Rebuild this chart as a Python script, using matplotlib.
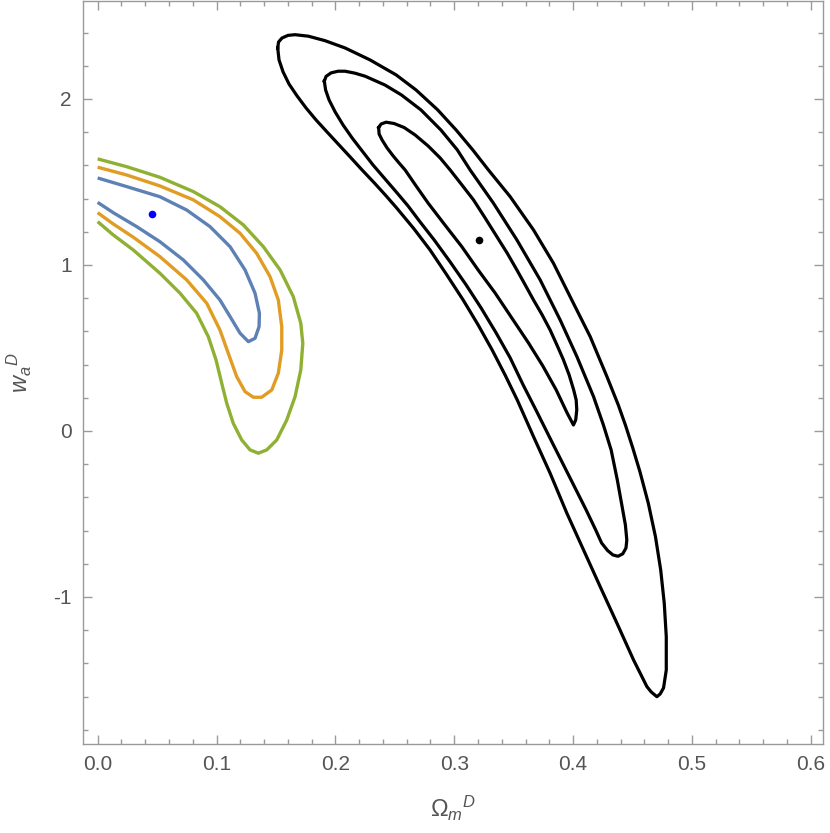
import matplotlib
matplotlib.use("Agg")
import matplotlib.pyplot as plt
from matplotlib.ticker import MultipleLocator

plt.rcParams['font.family'] = ['Liberation Sans', 'DejaVu Sans']
plt.rcParams['mathtext.fontset'] = 'custom'
plt.rcParams['mathtext.rm'] = 'Liberation Sans'
plt.rcParams['mathtext.it'] = 'Liberation Sans:italic'

# ---- data ----
# coloured contours (open curves, cut at Omega_m = 0)
blue_x = [0, 0.0244, 0.0524, 0.0749, 0.0945, 0.1114, 0.1240, 0.1324, 0.1361, 0.1358, 0.1324, 0.1268,
          0.1198, 0.1114, 0.1029, 0.0889, 0.0721, 0.0524, 0.0328, 0.0131, 0]
blue_y = [1.524, 1.472, 1.411, 1.331, 1.231, 1.110, 0.970, 0.830, 0.709, 0.628, 0.558, 0.538,
          0.589, 0.689, 0.789, 0.910, 1.030, 1.140, 1.231, 1.315, 1.377]

orange_x = [0, 0.0244, 0.0524, 0.0805, 0.1029, 0.1198, 0.1338, 0.1450, 0.1520, 0.1549, 0.1549, 0.1520,
            0.1465, 0.1380, 0.1310, 0.1240, 0.1170, 0.1099, 0.1029, 0.0918, 0.0749, 0.0524, 0.0300,
            0.0131, 0]
orange_y = [1.589, 1.542, 1.476, 1.392, 1.291, 1.191, 1.070, 0.930, 0.789, 0.628, 0.488, 0.348,
            0.247, 0.203, 0.203, 0.237, 0.327, 0.468, 0.608, 0.769, 0.910, 1.050, 1.167,
            1.247, 1.315]

green_x = [0, 0.0244, 0.0524, 0.0805, 0.1029, 0.1226, 0.1394, 0.1535, 0.1646, 0.1709, 0.1726, 0.1709,
           0.1661, 0.1591, 0.1507, 0.1423, 0.1352, 0.1282, 0.1212, 0.1141, 0.1086, 0.1044, 0.0996,
           0.0931, 0.0833, 0.0693, 0.0524, 0.0300, 0.0131, 0]
green_y = [1.639, 1.592, 1.528, 1.442, 1.351, 1.241, 1.110, 0.970, 0.809, 0.649, 0.528, 0.367,
           0.207, 0.066, -0.054, -0.114, -0.134, -0.114, -0.054, 0.046, 0.167, 0.287, 0.428,
           0.568, 0.709, 0.830, 0.950, 1.090, 1.181, 1.261]

# black contours (closed curves)
outer_x = [0.1515, 0.1522, 0.1551, 0.1602, 0.1661, 0.1773, 0.1913, 0.2082, 0.2292, 0.2511, 0.2679,
           0.2861, 0.3016, 0.3156, 0.3288, 0.3471, 0.3667, 0.3835, 0.4003, 0.4144, 0.4285, 0.4380,
           0.4440, 0.4502, 0.4563, 0.4633, 0.4693, 0.4737, 0.4767, 0.4784, 0.4784, 0.4761, 0.4733,
           0.4705, 0.4657, 0.4621, 0.4509, 0.4369, 0.4228, 0.4088, 0.3948, 0.3807, 0.3667, 0.3605,
           0.3530, 0.3428, 0.3319, 0.3201, 0.3075, 0.2932, 0.2797, 0.2662, 0.2516, 0.2427, 0.2328,
           0.2225, 0.2124, 0.2023, 0.1930, 0.1838, 0.1753, 0.1678, 0.1610, 0.1560, 0.1526, 0.1515]
outer_y = [2.307, 2.343, 2.367, 2.383, 2.387, 2.378, 2.351, 2.307, 2.235, 2.145, 2.054,
           1.934, 1.813, 1.693, 1.572, 1.411, 1.211, 1.010, 0.769, 0.568, 0.327, 0.157,
           0.036, -0.102, -0.247, -0.436, -0.637, -0.837, -1.038, -1.239, -1.440, -1.548, -1.584,
           -1.601, -1.572, -1.540, -1.380, -1.158, -0.938, -0.717, -0.496, -0.255, -0.034, 0.066,
           0.187, 0.337, 0.488, 0.639, 0.789, 0.946, 1.090, 1.217, 1.343, 1.416, 1.494,
           1.572, 1.651, 1.729, 1.801, 1.873, 1.946, 2.018, 2.090, 2.163, 2.235, 2.307]

middle_x = [0.1907, 0.1922, 0.1964, 0.2023, 0.2082, 0.2166, 0.2250, 0.2417, 0.2556, 0.2720, 0.2888,
            0.3026, 0.3134, 0.3330, 0.3527, 0.3723, 0.3891, 0.4032, 0.4172, 0.4255, 0.4320, 0.4372,
            0.4410, 0.4440, 0.4452, 0.4445, 0.4418, 0.4378, 0.4335, 0.4290, 0.4240, 0.4190, 0.4110,
            0.4025, 0.3928, 0.3826, 0.3738, 0.3687, 0.3580, 0.3471, 0.3353, 0.3226, 0.3100, 0.2966,
            0.2831, 0.2713, 0.2612, 0.2519, 0.2418, 0.2317, 0.2225, 0.2141, 0.2065, 0.1998, 0.1947,
            0.1918, 0.1907]
middle_y = [2.107, 2.136, 2.157, 2.167, 2.167, 2.155, 2.137, 2.084, 2.024, 1.934, 1.813,
            1.693, 1.572, 1.372, 1.151, 0.910, 0.669, 0.448, 0.207, 0.036, -0.114, -0.295,
            -0.446, -0.566, -0.657, -0.705, -0.740, -0.755, -0.747, -0.720, -0.675, -0.596, -0.476,
            -0.355, -0.217, -0.072, 0.054, 0.127, 0.277, 0.440, 0.590, 0.741, 0.880, 1.018,
            1.151, 1.259, 1.355, 1.434, 1.518, 1.602, 1.687, 1.765, 1.843, 1.922, 1.994,
            2.054, 2.107]

inner_x = [0.2364, 0.2385, 0.2427, 0.2494, 0.2578, 0.2671, 0.2780, 0.2881, 0.2966, 0.3058, 0.3162,
           0.3260, 0.3359, 0.3445, 0.3527, 0.3597, 0.3667, 0.3740, 0.3807, 0.3864, 0.3919, 0.3967,
           0.4005, 0.4026, 0.4031, 0.4022, 0.4003, 0.3950, 0.3858, 0.3745, 0.3625, 0.3484, 0.3344,
           0.3201, 0.3064, 0.2915, 0.2780, 0.2679, 0.2587, 0.2536, 0.2486, 0.2435, 0.2393, 0.2368,
           0.2364]
inner_y = [1.828, 1.849, 1.860, 1.852, 1.828, 1.783, 1.717, 1.645, 1.572, 1.488, 1.392,
           1.283, 1.170, 1.072, 0.970, 0.880, 0.789, 0.699, 0.608, 0.518, 0.428, 0.337,
           0.247, 0.187, 0.127, 0.066, 0.036, 0.108, 0.247, 0.392, 0.530, 0.681, 0.831,
           0.970, 1.110, 1.247, 1.373, 1.476, 1.572, 1.614, 1.657, 1.705, 1.753, 1.789,
           1.828]

blue_best = (0.0457, 1.307)
black_best = (0.321, 1.151)

xticks = [0.0, 0.1, 0.2, 0.3, 0.4, 0.5, 0.6]
yticks = [-1, 0, 1, 2]

# ---- figure ----
fig = plt.figure(figsize=(8.30, 8.33), dpi=100)
ax = fig.add_axes([0.0996, 0.1068, 0.8916, 0.892])

for xs, ys, c in [(green_x, green_y, '#8FB032'), (orange_x, orange_y, '#E19C24'), (blue_x, blue_y, '#5E81B5')]:
    ax.plot(xs, ys, color=c, lw=2.4, solid_joinstyle='round', solid_capstyle='butt')
for xs, ys in [(outer_x, outer_y), (middle_x, middle_y), (inner_x, inner_y)]:
    ax.plot(xs, ys, color='black', lw=2.3, solid_joinstyle='round')

ax.plot([blue_best[0]], [blue_best[1]], 'o', color='#0000FF', ms=5.5, mew=0)
ax.plot([black_best[0]], [black_best[1]], 'o', color='black', ms=5.5, mew=0)

ax.set_xlim(-0.0126, 0.610)
ax.set_ylim(-1.886, 2.59)
ax.set_xticks(xticks)
ax.set_xticklabels([f"{v:.1f}" for v in xticks])
ax.set_yticks(yticks)
ax.set_yticklabels([str(v) for v in yticks])
ax.xaxis.set_minor_locator(MultipleLocator(0.02))
ax.yaxis.set_minor_locator(MultipleLocator(0.2))

gray = '#9A9A9A'
for s in ax.spines.values():
    s.set_color(gray)
    s.set_linewidth(1.0)
ax.tick_params(which='both', direction='in', top=True, right=True, color=gray, width=1.0,
               labelcolor='#555555', labelsize=15)
ax.tick_params(which='major', length=6.5, pad=8)
ax.tick_params(which='minor', length=3.5)

ax.set_xlabel(r'${\Omega_m}^{D}$', fontsize=17, color='#555555', labelpad=14)
ax.set_ylabel(r'${w_a}^{D}$', fontsize=17, color='#555555', labelpad=14)

fig.savefig('out.png', dpi=100)
